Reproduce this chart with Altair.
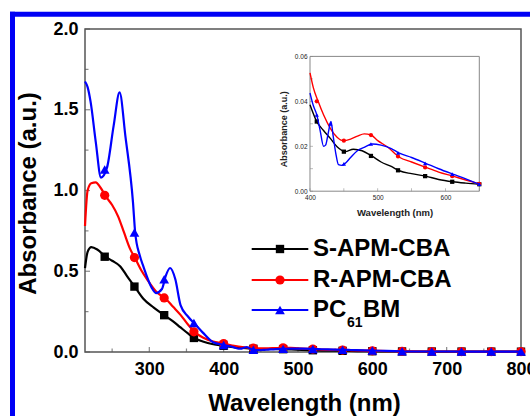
import altair as alt
import pandas as pd

FONT = "Liberation Sans"

# ---------------- data ----------------
series_names = ["S-APM-CBA", "R-APM-CBA", "PC61BM"]
series_colors = ["#000000", "#ff0000", "#0000ff"]
series_shapes = ["square", "circle", "triangle-up"]

black_wl = [213.5, 217, 222, 230, 241, 250, 261, 270, 281, 292, 306, 321, 332, 342, 352, 361, 372, 386,
            400, 410, 420, 430, 440, 452, 464, 477, 491, 505, 520, 532, 550, 571, 590, 611, 630, 650, 700, 750, 800]
black_abs = [0.52, 0.62, 0.65, 0.635, 0.59, 0.565, 0.53, 0.47, 0.40, 0.33, 0.275, 0.225, 0.19, 0.152, 0.115, 0.085, 0.065, 0.048,
             0.0385, 0.031, 0.027, 0.0235, 0.0198, 0.0176, 0.0187, 0.018, 0.0157, 0.013, 0.011, 0.0091, 0.0078, 0.0067, 0.0052, 0.0042, 0.0036, 0.0031, 0.0028, 0.0025, 0.002]

red_wl = [213.5, 217, 222, 228, 234, 242, 250, 258, 266, 274, 281, 290, 297, 310, 322, 332, 342, 352, 362, 372, 386,
          400, 405, 412, 420, 430, 440, 449, 460, 470, 480, 490, 500, 514, 532, 550, 571, 590, 611, 630, 650, 700, 750, 800]
red_abs = [0.78, 1.0, 1.045, 1.05, 1.02, 0.96, 0.91, 0.84, 0.74, 0.64, 0.58, 0.50, 0.45, 0.37, 0.33, 0.28, 0.23, 0.17, 0.12, 0.09, 0.065,
           0.0527, 0.046, 0.040, 0.034, 0.028, 0.024, 0.0225, 0.0232, 0.0245, 0.0255, 0.025, 0.0225, 0.0198, 0.0151, 0.013, 0.0106, 0.0085, 0.0067, 0.005, 0.0033, 0.003, 0.0028, 0.0025]

blue_wl = [213.5, 217, 221, 228, 235, 243, 252, 260, 268, 278, 281, 287, 292, 303, 309, 317, 322, 328, 335, 342, 352, 362, 372, 386,
           400, 405, 410, 415, 420, 423, 427, 431, 434, 438, 442, 447, 453, 460, 470, 480, 492, 505, 520, 532, 550, 571, 590, 611, 630, 650, 700, 750, 800]
blue_abs = [1.675, 1.64, 1.55, 1.30, 1.08, 1.14, 1.40, 1.607, 1.33, 0.93, 0.74, 0.60, 0.53, 0.40, 0.365, 0.39, 0.47, 0.52, 0.45, 0.29, 0.22, 0.17, 0.12, 0.06,
            0.0437, 0.038, 0.034, 0.027, 0.020, 0.0205, 0.026, 0.031, 0.025, 0.017, 0.0118, 0.0115, 0.0127, 0.015, 0.018, 0.0195, 0.021, 0.0205, 0.019, 0.0169, 0.015, 0.0124, 0.010, 0.0076, 0.0055, 0.0031, 0.003, 0.0028, 0.0025]

# markers on the main plot
main_mark_wl = [240, 280, 320, 360, 400, 440, 480, 520, 560, 600, 640, 680, 720, 760, 800]
black_mark = [0.59, 0.405, 0.228, 0.087, 0.0385, 0.0198, 0.0175, 0.011, 0.0072, 0.0047, 0.0033, 0.0029, 0.0027, 0.0024, 0.002]
red_mark = [0.97, 0.585, 0.335, 0.125, 0.0527, 0.024, 0.0255, 0.018, 0.0118, 0.0076, 0.004, 0.0031, 0.0029, 0.0027, 0.0025]
blue_mark = [1.13, 0.74, 0.45, 0.18, 0.0437, 0.014, 0.0195, 0.019, 0.0137, 0.009, 0.0043, 0.003, 0.0029, 0.0027, 0.0025]

# markers on the inset
inset_mark_wl = [410, 450, 490, 530, 570, 610, 650]
black_inset_mark = [0.031, 0.0176, 0.0157, 0.0093, 0.0067, 0.0042, 0.0031]
red_inset_mark = [0.040, 0.0225, 0.025, 0.0155, 0.0106, 0.0067, 0.0033]
blue_inset_mark_wl = [410, 430, 450, 490, 530, 570, 610, 650]
blue_inset_mark = [0.034, 0.030, 0.0122, 0.021, 0.017, 0.0124, 0.0076, 0.0031]

main_x_labels = [300, 400, 500, 600, 700, 800]
main_x_minor = [250, 350, 450, 550, 650, 750]
main_y_labels = [0.0, 0.5, 1.0, 1.5, 2.0]
main_y_minor = [0.25, 0.75, 1.25, 1.75]
inset_x_labels = [400, 500, 600]
inset_x_ticks = [400, 450, 500, 550, 600, 650]
inset_y_labels = [0.0, 0.02, 0.04, 0.06]
inset_y_ticks = [0.0, 0.01, 0.02, 0.03, 0.04, 0.05, 0.06]

curves = [(black_wl, black_abs), (red_wl, red_abs), (blue_wl, blue_abs)]
main_marks = [(main_mark_wl, black_mark), (main_mark_wl, red_mark), (main_mark_wl, blue_mark)]
inset_marks = [(inset_mark_wl, black_inset_mark), (inset_mark_wl, red_inset_mark), (blue_inset_mark_wl, blue_inset_mark)]

# ---------------- layout ----------------
W, H = 436, 323
FRAME = "#555555"
MARK_SIZE = {"square": 70, "circle": 85, "triangle-up": 95}

def df(wl, ab):
    return pd.DataFrame({"wl": wl, "ab": ab})

# main scales / axes
xs_main = alt.Scale(domain=[213.5, 800], nice=False, zero=False)
ys_main = alt.Scale(domain=[0, 2.0], nice=False, zero=False)
xa_main = alt.Axis(values=main_x_labels, format="d", title="Wavelength (nm)", grid=False, ticks=False, domain=False,
                   labelFont=FONT, labelFontSize=18, labelFontWeight="bold", labelColor="black", labelPadding=8,
                   labelFlush=False, labelOverlap=False,
                   titleFont=FONT, titleFontSize=24, titleFontWeight="bold", titleColor="black",
                   titleBaseline="alphabetic", titleAlign="center", titleX=219, titleY=58.5)
ya_main = alt.Axis(values=main_y_labels, format=".1f", title="Absorbance (a.u.)", grid=False, ticks=False, domain=False,
                   labelFont=FONT, labelFontSize=18, labelFontWeight="bold", labelColor="black", labelPadding=7,
                   labelFlush=False, labelOverlap=False,
                   titleFont=FONT, titleFontSize=24, titleFontWeight="bold", titleColor="black",
                   titleBaseline="alphabetic", titleAlign="center", titleAngle=270, titleX=-49.5, titleY=164)

def mx(field):
    return alt.X(field, type="quantitative", scale=xs_main, axis=xa_main)

def my(field):
    return alt.Y(field, type="quantitative", scale=ys_main, axis=ya_main)

main_layers = []
# inward ticks
for vals, size in [(main_x_labels, 5), (main_x_minor, 3.5)]:
    main_layers.append(
        alt.Chart(pd.DataFrame({"t": vals})).transform_calculate(z="0")
        .mark_tick(orient="vertical", size=size, thickness=1.2, color=FRAME, yOffset=-size / 2)
        .encode(x=mx("t"), y=my("z"))
    )
for vals, size in [(main_y_labels, 5), (main_y_minor, 3.5)]:
    main_layers.append(
        alt.Chart(pd.DataFrame({"t": vals})).transform_calculate(z="213.5")
        .mark_tick(orient="horizontal", size=size, thickness=1.2, color=FRAME, xOffset=size / 2)
        .encode(x=mx("z"), y=my("t"))
    )
for (wl, ab), (mwl, mab), color, shape in zip(curves, main_marks, series_colors, series_shapes):
    main_layers.append(
        alt.Chart(df(wl, ab)).mark_line(color=color, strokeWidth=2.2, interpolate="monotone")
        .encode(x=mx("wl"), y=my("ab"))
    )
    main_layers.append(
        alt.Chart(df(mwl, mab)).mark_point(filled=True, shape=shape, size=MARK_SIZE[shape],
                                          color=color, opacity=1)
        .encode(x=mx("wl"), y=my("ab"))
    )
main = alt.layer(*main_layers)

# inset scales / axes (placed inside the main plot area)
xs_in = alt.Scale(domain=[400, 650], range=[225, 394.3], nice=False, zero=False)
ys_in = alt.Scale(domain=[0, 0.06], range=[162.2, 27.4], nice=False, zero=False)
xa_in = alt.Axis(orient="bottom", offset=-(H - 162.2), values=inset_x_labels, format="d", title="Wavelength (nm)",
                 grid=False, ticks=False, domain=False,
                 labelFont=FONT, labelFontSize=6.5, labelColor="#222", labelPadding=3, labelFlush=False, labelOverlap=False,
                 titleFont=FONT, titleFontSize=9.5, titleFontWeight="bold", titleColor="#222",
                 titleBaseline="alphabetic", titleAlign="center", titleX=309.6, titleY=24.5)
ya_in = alt.Axis(orient="left", offset=-225, values=inset_y_labels, format=".2f", title="Absorbance (a.u.)",
                 grid=False, ticks=False, domain=False,
                 labelFont=FONT, labelFontSize=6.5, labelColor="#222", labelPadding=3, labelFlush=False, labelOverlap=False,
                 titleFont=FONT, titleFontSize=9, titleFontWeight="bold", titleColor="#222",
                 titleBaseline="alphabetic", titleAlign="center", titleAngle=270, titleX=-24, titleY=99.7)

def ix(field):
    return alt.X(field, type="quantitative", scale=xs_in, axis=xa_in)

def iy(field):
    return alt.Y(field, type="quantitative", scale=ys_in, axis=ya_in)

inset_layers = [
    alt.Chart(pd.DataFrame({"a": [400], "b": [650], "c": [0.0], "d": [0.06]}))
    .mark_rect(fill="white", stroke="#888888", strokeWidth=1)
    .encode(x=ix("a"), x2="b", y=iy("c"), y2="d")
]
inset_layers.append(
    alt.Chart(pd.DataFrame({"t": inset_x_ticks})).transform_calculate(z="0")
    .mark_tick(orient="vertical", size=3, thickness=0.8, color="#888888", yOffset=-1.5)
    .encode(x=ix("t"), y=iy("z"))
)
inset_layers.append(
    alt.Chart(pd.DataFrame({"t": inset_y_ticks})).transform_calculate(z="400")
    .mark_tick(orient="horizontal", size=3, thickness=0.8, color="#888888", xOffset=1.5)
    .encode(x=ix("z"), y=iy("t"))
)
for (wl, ab), (mwl, mab), color, shape in zip(curves, inset_marks, series_colors, series_shapes):
    inset_layers.append(
        alt.Chart(df(wl, ab)).transform_filter("datum.wl >= 400 && datum.wl <= 650")
        .mark_line(color=color, strokeWidth=1.4, interpolate="monotone")
        .encode(x=ix("wl"), y=iy("ab"))
    )
    inset_layers.append(
        alt.Chart(df(mwl, mab)).mark_point(filled=True, shape=shape, size=18, color=color, opacity=1)
        .encode(x=ix("wl"), y=iy("ab"))
    )
inset = alt.layer(*inset_layers)

# legend drawn inside the plot
one = alt.Data(values=[{}])
legend_rows_y = [220, 251, 281]
legend_layers = []
for name, color, shape, yy in zip(series_names, series_colors, series_shapes, legend_rows_y):
    legend_layers.append(alt.Chart(one).mark_rule(color=color, strokeWidth=2.2)
                         .encode(x=alt.value(166.7), x2=alt.value(223.3), y=alt.value(yy)))
    legend_layers.append(alt.Chart(one).mark_point(filled=True, shape=shape, size=MARK_SIZE[shape],
                                                   color=color, opacity=1)
                         .encode(x=alt.value(195), y=alt.value(yy)))
    if name == "PC61BM":
        parts = [("PC", 228, 0, 24), ("61", 262, 13, 14), ("BM", 278, 0, 24)]
    else:
        parts = [(name, 228, 0, 24)]
    for txt, xx, dy, fs in parts:
        legend_layers.append(alt.Chart(one).mark_text(text=txt, align="left", baseline="middle", font=FONT,
                                                      fontSize=fs, fontWeight="bold", color="black", dy=dy)
                             .encode(x=alt.value(xx), y=alt.value(yy)))

# blue frame of the figure (top and left edges)
border = [
    alt.Chart(one).mark_rule(color="#0000f5", strokeWidth=5)
    .encode(x=alt.value(-75), x2=alt.value(460), y=alt.value(-14.8)),
    alt.Chart(one).mark_rule(color="#0000f5", strokeWidth=5)
    .encode(x=alt.value(-72.5), y=alt.value(-17.3), y2=alt.value(400)),
]

chart = (
    alt.layer(main, inset, *legend_layers, *border)
    .resolve_scale(x="independent", y="independent")
    .properties(width=W, height=H,
                padding={"left": 85, "top": 29, "right": 530 - 85 - W, "bottom": 416 - 29 - H},
                autosize=alt.AutoSizeParams(type="none"),
                background="white")
    .configure_view(stroke=FRAME, strokeWidth=1.5)
)

chart.save("out.html", embed_options={"renderer": "svg", "actions": False})
